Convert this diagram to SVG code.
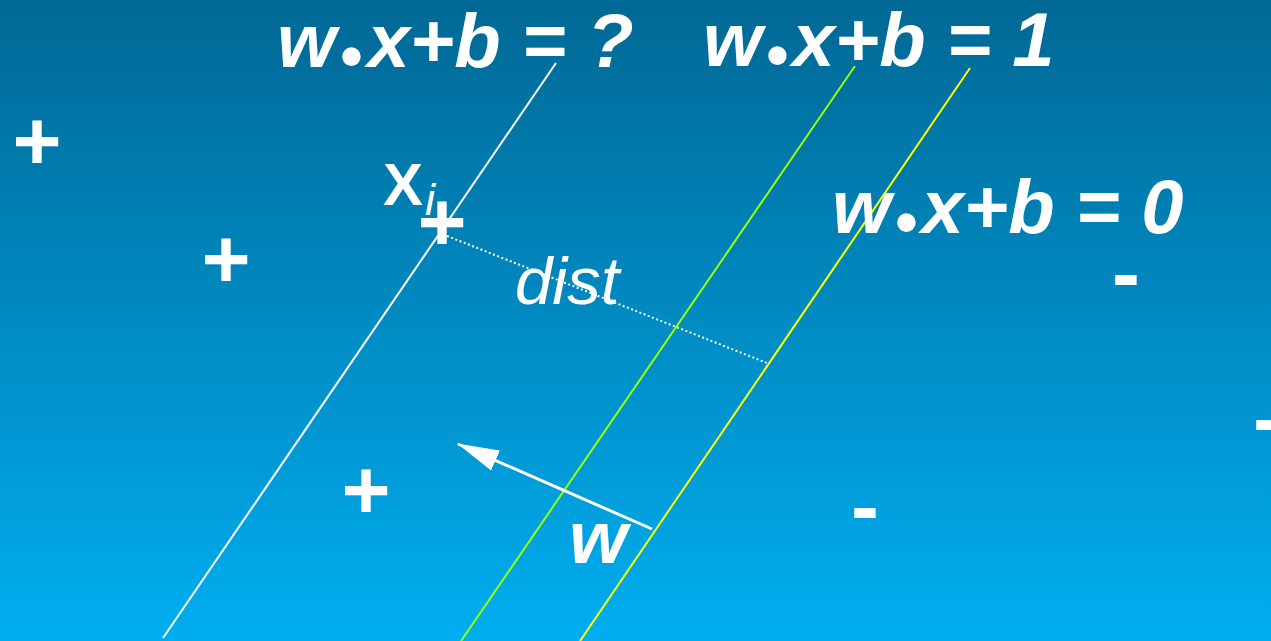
<svg xmlns="http://www.w3.org/2000/svg" width="1271" height="641" viewBox="0 0 1271 641">
<defs>
<linearGradient id="bg" x1="0" y1="0" x2="0" y2="1">
<stop offset="0" stop-color="#006895"/>
<stop offset="1" stop-color="#00AEF0"/>
</linearGradient>
<marker id="ah" viewBox="0 0 42 24" refX="41" refY="12" markerWidth="42" markerHeight="24" markerUnits="userSpaceOnUse" orient="auto">
<path d="M0,1 L42,12 L0,23 Z" fill="#fff"/>
</marker>
<style>
.eq{font-family:"Liberation Sans",Arial,sans-serif;font-weight:bold;font-style:italic;font-size:76px;fill:#fff}
.dot{font-size:64px;font-style:normal}
.pt{font-family:"Liberation Sans",Arial,sans-serif;font-weight:bold;font-size:84px;fill:#fff;text-anchor:middle}
.lbl{font-family:"Liberation Sans",Arial,sans-serif;fill:#fff}
.ln{stroke-width:2;fill:none}
</style>
</defs>
<rect width="1271" height="641" fill="url(#bg)"/>
<g id="connectors">
<line class="ln" x1="556" y1="63" x2="163" y2="638" stroke="#ffffff"/>
<line class="ln" x1="855" y1="66" x2="461" y2="641" stroke="#99FF00"/>
<line class="ln" x1="970" y1="68" x2="580" y2="641" stroke="#FFFF00"/>
<line x1="447" y1="236" x2="767" y2="363" stroke="#fff" stroke-width="2" stroke-dasharray="2,2.5"/>
<line x1="652" y1="529" x2="458" y2="444" stroke="#fff" stroke-width="3" marker-end="url(#ah)"/>
</g>
<g id="eq-question"><text class="eq" x="277" y="67">w<tspan class="dot" dx="4" dy="11">•</tspan><tspan dx="5" dy="-11">x+b = ?</tspan></text></g>
<g id="eq-one"><text class="eq" x="703" y="66">w<tspan class="dot" dx="4" dy="11">•</tspan><tspan dx="4" dy="-11">x+b = 1</tspan></text></g>
<g id="eq-zero"><text class="eq" x="832" y="233">w<tspan class="dot" dx="4" dy="11">•</tspan><tspan dx="4" dy="-11">x+b = 0</tspan></text></g>
<g id="xi"><text class="lbl" x="383" y="205" font-size="60" font-weight="bold">X<tspan font-size="45" font-weight="normal" font-style="italic" dx="2" dy="10">i</tspan></text></g>
<g id="dist"><text class="lbl" x="515" y="304" font-size="67" font-style="italic">dist</text></g>
<g id="wlabel"><text class="lbl" x="569" y="563" font-size="75" font-weight="bold" font-style="italic">w</text></g>
<g id="plus1"><text class="pt" x="37" y="170">+</text></g>
<g id="plus2"><text class="pt" x="226" y="288">+</text></g>
<g id="plus3"><text class="pt" x="366" y="519">+</text></g>
<g id="plus-xi"><text class="pt" x="442" y="251" font-size="60">+</text></g>
<g id="minus1"><text class="pt" x="1126" y="302">-</text></g>
<g id="minus2"><text class="pt" x="865" y="535">-</text></g>
<g id="minus3"><text class="pt" x="1267" y="447">-</text></g>
</svg>
